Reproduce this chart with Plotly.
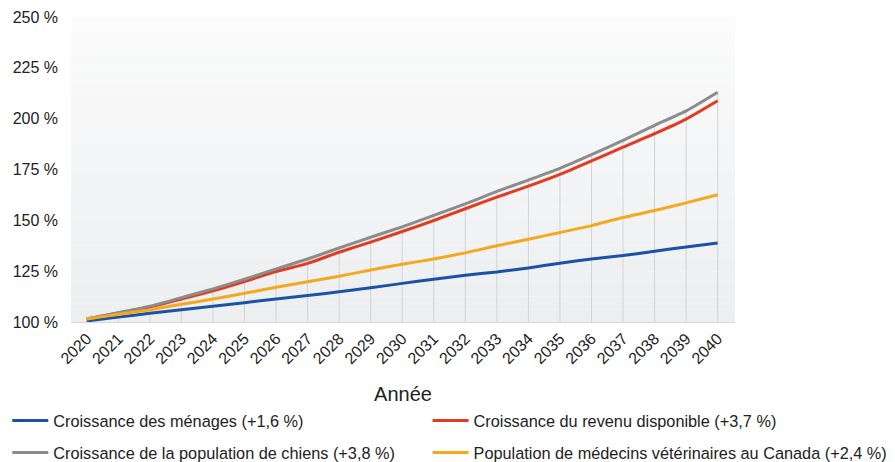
import plotly.graph_objects as go

years = list(range(2020, 2041))

menages = [100.5, 102.4, 104.3, 106.0, 107.7, 109.5, 111.3, 113.0, 114.9, 116.8, 119.0,
           121.0, 123.0, 124.6, 126.6, 128.9, 131.0, 132.7, 134.8, 136.9, 138.9]
revenu = [101.5, 104.4, 107.4, 111.3, 115.3, 119.9, 124.8, 128.8, 134.3, 139.3, 144.5,
          149.9, 155.7, 161.4, 166.8, 172.6, 179.2, 186.0, 192.6, 199.8, 208.8]
chiens = [101.5, 104.6, 107.8, 112.0, 116.3, 121.0, 126.1, 131.0, 136.4, 141.7, 146.8,
          152.4, 158.1, 164.2, 169.8, 175.6, 182.3, 189.3, 196.7, 203.8, 213.0]
veterinaires = [101.5, 103.8, 106.0, 108.7, 111.3, 114.1, 117.1, 119.8, 122.5, 125.6, 128.4,
                131.0, 134.0, 137.5, 140.7, 144.0, 147.4, 151.4, 154.8, 158.6, 162.6]

names = [
    "Croissance des ménages (+1,6 %)",
    "Croissance du revenu disponible (+3,7 %)",
    "Croissance de la population de chiens (+3,8 %)",
    "Population de médecins vétérinaires au Canada (+2,4 %)",
]
y_min, y_max, y_step = 100, 250, 25

FONT = "Liberation Sans, Arial, sans-serif"
fig = go.Figure()

# vertical drop lines from axis up to the highest series
dx, dy = [], []
for i, yr in enumerate(years):
    top = max(menages[i], revenu[i], chiens[i], veterinaires[i])
    dx += [yr, yr, None]
    dy += [y_min, top, None]
fig.add_trace(go.Scatter(x=dx, y=dy, mode="lines", line=dict(color="#d3d3d5", width=1),
                         hoverinfo="skip", showlegend=False))

series = [
    (menages, "#1c52a6", "legend"),
    (revenu, "#e23b1f", "legend2"),
    (chiens, "#8c8c8c", "legend3"),
    (veterinaires, "#f4a81d", "legend4"),
]
for (vals, col, lg), nm in zip(series, names):
    fig.add_trace(go.Scatter(x=years, y=vals, mode="lines", name=nm,
                             line=dict(color=col, width=3, shape="spline", smoothing=0.6),
                             legend=lg))

# gradient background bands
n = 24
top_c = (251, 251, 251)
bot_c = (236, 238, 240)
shapes = []
for k in range(n):
    t = (k + 0.5) / n
    c = tuple(round(top_c[j] + (bot_c[j] - top_c[j]) * t) for j in range(3))
    shapes.append(dict(type="rect", xref="x domain", yref="y domain",
                       x0=0, x1=1, y0=1 - (k + 1) / n, y1=1 - k / n,
                       fillcolor="rgb(%d,%d,%d)" % c, line=dict(width=0), layer="below"))

# plot area (figure pixels): left 63, right 727, top 9, bottom 314 -> 664 x 305
col_x = [-0.096, 0.537]
row_y = [-0.3246, -0.4295]
leg_common = dict(orientation="h", xanchor="left", yanchor="middle",
                  font=dict(size=16.3, family=FONT, color="#222222"),
                  bgcolor="rgba(0,0,0,0)", itemwidth=36)

fig.update_layout(
    width=887, height=454,
    margin=dict(l=63, r=160, t=9, b=140, autoexpand=False),
    paper_bgcolor="white",
    plot_bgcolor="white",
    font=dict(family=FONT, color="#222222", size=16),
    shapes=shapes,
    legend=dict(x=col_x[0], y=row_y[0], **leg_common),
    legend2=dict(x=col_x[1], y=row_y[0], **leg_common),
    legend3=dict(x=col_x[0], y=row_y[1], **leg_common),
    legend4=dict(x=col_x[1], y=row_y[1], **leg_common),
    showlegend=True,
)
fig.update_xaxes(range=[2019.5, 2040.55], tickvals=years, ticktext=[str(y) for y in years],
                 tickangle=-45, showgrid=False, zeroline=False, showline=True,
                 linecolor="#d8d8d8", linewidth=1, ticks="",
                 tickfont=dict(size=16, family=FONT, color="#222222"),
                 title=dict(text="Année", font=dict(size=20, family=FONT, color="#222222"), standoff=20))
fig.update_yaxes(range=[y_min, y_max], dtick=y_step, tick0=y_min, ticksuffix=" %",
                 showgrid=False, zeroline=False, showline=False, ticks="",
                 ticklabelstandoff=12,
                 tickfont=dict(size=16, family=FONT, color="#222222"))

fig.write_html("out.html")
